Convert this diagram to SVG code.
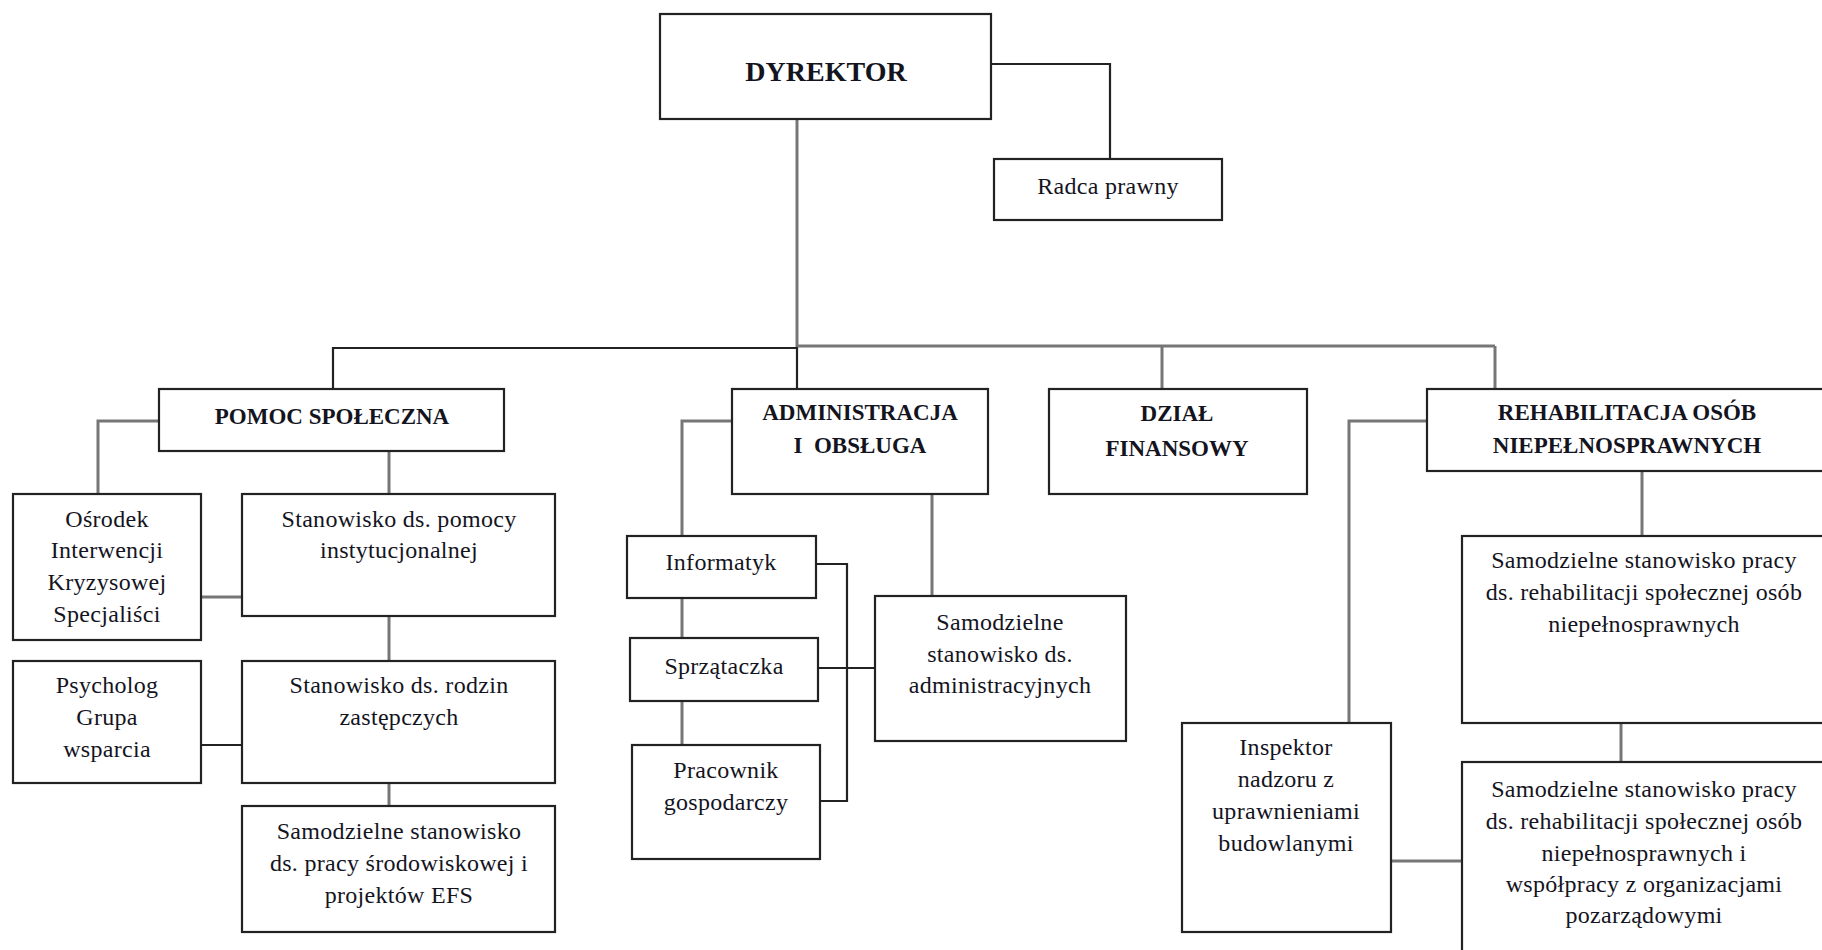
<svg xmlns="http://www.w3.org/2000/svg" width="1822" height="950" viewBox="0 0 1822 950">
<style>
.box{fill:#fff;stroke:#222;stroke-width:2.2}
.t{font-family:"Liberation Serif","Times New Roman",serif;font-size:24px;fill:#14141e;text-anchor:middle;letter-spacing:0.3px}
.h{font-family:"Liberation Serif","Times New Roman",serif;font-size:23px;font-weight:bold;fill:#14141e;text-anchor:middle}
.g{fill:none;stroke:#767676;stroke-width:3}
.k{fill:none;stroke:#222;stroke-width:2.2}
</style>
<rect width="1822" height="950" fill="#fff"/>
<g id="connectors">
<polyline class="k" points="991,64 1110,64 1110,159"/>
<line class="g" x1="797" y1="119" x2="797" y2="347"/>
<line class="g" x1="797" y1="346" x2="1495" y2="346"/>
<polyline class="k" points="333,389 333,348 797,348 797,389"/>
<line class="g" x1="1162" y1="346" x2="1162" y2="389"/>
<line class="g" x1="1495" y1="346" x2="1495" y2="389"/>
<polyline class="g" points="159,421 98,421 98,494"/>
<line class="g" x1="389" y1="451" x2="389" y2="494"/>
<line class="g" x1="201" y1="597" x2="242" y2="597"/>
<line class="g" x1="389" y1="616" x2="389" y2="661"/>
<line class="k" x1="201" y1="745" x2="242" y2="745"/>
<line class="g" x1="389" y1="783" x2="389" y2="806"/>
<polyline class="g" points="732,421 682,421 682,536"/>
<line class="g" x1="682" y1="598" x2="682" y2="638"/>
<line class="g" x1="682" y1="701" x2="682" y2="745"/>
<line class="g" x1="932" y1="494" x2="932" y2="596"/>
<polyline class="k" points="816,564 847,564 847,801 820,801"/>
<line class="k" x1="818" y1="668" x2="875" y2="668"/>
<polyline class="g" points="1427,421 1349,421 1349,723"/>
<line class="g" x1="1642" y1="471" x2="1642" y2="536"/>
<line class="g" x1="1621" y1="723" x2="1621" y2="762"/>
<line class="g" x1="1391" y1="861" x2="1462" y2="861"/>
</g>
<g id="dyrektor">
<rect class="box" x="660" y="14" width="331" height="105"/>
<text class="h" x="826" y="81" style="font-size:28px">DYREKTOR</text>
</g>
<g id="radca">
<rect class="box" x="994" y="159" width="228" height="61"/>
<text class="t" x="1108" y="194">Radca prawny</text>
</g>
<g id="pomoc">
<rect class="box" x="159" y="389" width="345" height="62"/>
<text class="h" x="332" y="424">POMOC SPOŁECZNA</text>
</g>
<g id="administracja">
<rect class="box" x="732" y="389" width="256" height="105"/>
<text class="h" x="860" y="420">ADMINISTRACJA</text>
<text class="h" x="860" y="453" xml:space="preserve">I  OBSŁUGA</text>
</g>
<g id="finanse">
<rect class="box" x="1049" y="389" width="258" height="105"/>
<text class="h" x="1177" y="421">DZIAŁ</text>
<text class="h" x="1177" y="456">FINANSOWY</text>
</g>
<g id="rehabilitacja">
<rect class="box" x="1427" y="389" width="402" height="82"/>
<text class="h" x="1627" y="420">REHABILITACJA OSÓB</text>
<text class="h" x="1627" y="453">NIEPEŁNOSPRAWNYCH</text>
</g>
<g id="osrodek">
<rect class="box" x="13" y="494" width="188" height="146"/>
<text class="t" x="107" y="527">Ośrodek</text>
<text class="t" x="107" y="558">Interwencji</text>
<text class="t" x="107" y="590">Kryzysowej</text>
<text class="t" x="107" y="622">Specjaliści</text>
</g>
<g id="pomoc-instytucjonalna">
<rect class="box" x="242" y="494" width="313" height="122"/>
<text class="t" x="399" y="527">Stanowisko ds. pomocy</text>
<text class="t" x="399" y="558">instytucjonalnej</text>
</g>
<g id="psycholog">
<rect class="box" x="13" y="661" width="188" height="122"/>
<text class="t" x="107" y="693">Psycholog</text>
<text class="t" x="107" y="725">Grupa</text>
<text class="t" x="107" y="757">wsparcia</text>
</g>
<g id="rodziny-zastepcze">
<rect class="box" x="242" y="661" width="313" height="122"/>
<text class="t" x="399" y="693">Stanowisko ds. rodzin</text>
<text class="t" x="399" y="725">zastępczych</text>
</g>
<g id="praca-srodowiskowa">
<rect class="box" x="242" y="806" width="313" height="126"/>
<text class="t" x="399" y="839">Samodzielne stanowisko</text>
<text class="t" x="399" y="871">ds. pracy środowiskowej i</text>
<text class="t" x="399" y="903">projektów EFS</text>
</g>
<g id="informatyk">
<rect class="box" x="627" y="536" width="189" height="62"/>
<text class="t" x="721" y="570">Informatyk</text>
</g>
<g id="sprzataczka">
<rect class="box" x="630" y="638" width="188" height="63"/>
<text class="t" x="724" y="674">Sprzątaczka</text>
</g>
<g id="pracownik">
<rect class="box" x="632" y="745" width="188" height="114"/>
<text class="t" x="726" y="778">Pracownik</text>
<text class="t" x="726" y="810">gospodarczy</text>
</g>
<g id="sam-administracyjne">
<rect class="box" x="875" y="596" width="251" height="145"/>
<text class="t" x="1000" y="630">Samodzielne</text>
<text class="t" x="1000" y="662">stanowisko ds.</text>
<text class="t" x="1000" y="693">administracyjnych</text>
</g>
<g id="inspektor">
<rect class="box" x="1182" y="723" width="209" height="209"/>
<text class="t" x="1286" y="755">Inspektor</text>
<text class="t" x="1286" y="787">nadzoru z</text>
<text class="t" x="1286" y="819">uprawnieniami</text>
<text class="t" x="1286" y="851">budowlanymi</text>
</g>
<g id="rehab-spoleczna">
<rect class="box" x="1462" y="536" width="367" height="187"/>
<text class="t" x="1644" y="568">Samodzielne stanowisko pracy</text>
<text class="t" x="1644" y="600">ds. rehabilitacji społecznej osób</text>
<text class="t" x="1644" y="632">niepełnosprawnych</text>
</g>
<g id="rehab-organizacje">
<rect class="box" x="1462" y="762" width="367" height="200"/>
<text class="t" x="1644" y="797">Samodzielne stanowisko pracy</text>
<text class="t" x="1644" y="829">ds. rehabilitacji społecznej osób</text>
<text class="t" x="1644" y="861">niepełnosprawnych i</text>
<text class="t" x="1644" y="892">współpracy z organizacjami</text>
<text class="t" x="1644" y="923">pozarządowymi</text>
</g>
</svg>
